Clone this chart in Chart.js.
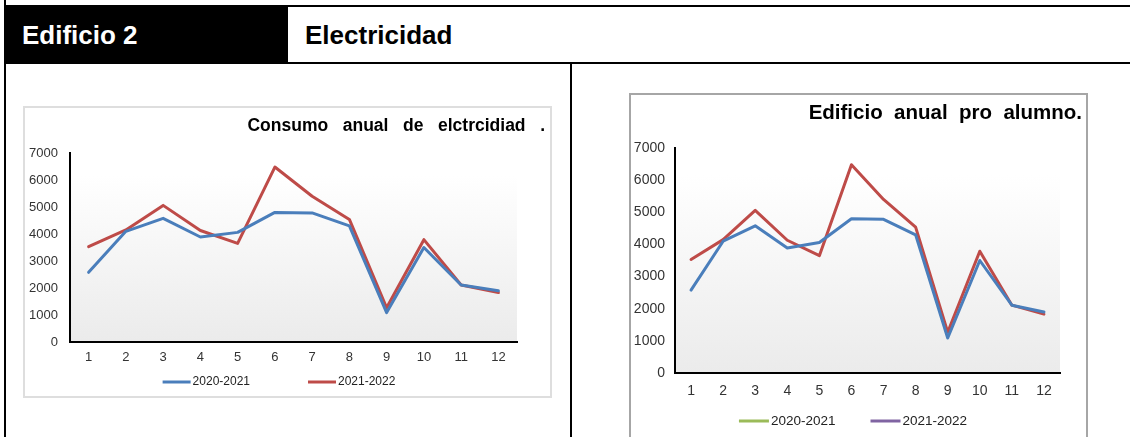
<!DOCTYPE html>
<html>
<head>
<meta charset="utf-8">
<script src="https://cdn.jsdelivr.net/npm/chart.js@4.4.1/dist/chart.umd.min.js"></script>
<style>
  body { margin: 0; width: 1130px; height: 437px; overflow: hidden; background: #fff; position: relative;
         font-family: 'Liberation Sans', Arial, sans-serif; }
  .abs { position: absolute; }
  .hd { position: absolute; font-weight: bold; font-size: 26px; line-height: 26px; }
</style>
</head>
<body>
<!-- table frame -->
<div class="abs" style="left:4px;top:0;width:2px;height:437px;background:#000"></div>
<div class="abs" style="left:4px;top:5px;width:1126px;height:2px;background:#000"></div>
<div class="abs" style="left:4px;top:5px;width:284px;height:58px;background:#000"></div>
<div class="abs" style="left:4px;top:62px;width:1126px;height:2px;background:#000"></div>
<div class="abs" style="left:570px;top:62px;width:2px;height:375px;background:#000"></div>
<div class="hd" style="left:22px;top:22px;color:#fff">Edificio 2</div>
<div class="hd" style="left:305px;top:22px;color:#000">Electricidad</div>

<!-- chart boxes -->
<div class="abs" style="left:23px;top:106px;width:529px;height:292px;border:2px solid #dedede;box-sizing:border-box"></div>
<div class="abs" style="left:629px;top:93px;width:459px;height:370px;border:2px solid #a6a6a6;box-sizing:border-box"></div>

<canvas id="c1" class="abs" style="left:25px;top:108px" width="525" height="290"></canvas>
<canvas id="c2" class="abs" style="left:631px;top:95px" width="455" height="342"></canvas>

<script>
// data
const meses = ['1', '2', '3', '4', '5', '6', '7', '8', '9', '10', '11', '12'];
const serie2021 = [2580, 4100, 4580, 3890, 4060, 4800, 4780, 4300, 1090, 3500, 2110, 1900];
const serie2122 = [3530, 4150, 5060, 4130, 3650, 6480, 5400, 4540, 1270, 3790, 2110, 1830];
const etiquetas = ['2020-2021', '2021-2022'];
const yMax = 7000;
const yStep = 1000;

const FONT = "'Liberation Sans', Arial, sans-serif";

// grey fade behind the plot
const plotFade = {
  id: 'plotFade',
  beforeDraw(chart) {
    const a = chart.chartArea, ctx = chart.ctx;
    const g = ctx.createLinearGradient(0, a.top, 0, a.bottom);
    g.addColorStop(0, '#ffffff');
    g.addColorStop(0.12, '#ffffff');
    g.addColorStop(1, '#ebebeb');
    ctx.save();
    ctx.fillStyle = g;
    ctx.fillRect(a.left, a.top, a.right - a.left, a.bottom - a.top);
    ctx.restore();
  }
};

// excel style legend: short line + text right after it
const lineLegend = {
  id: 'lineLegend',
  afterDraw(chart, args, o) {
    const ctx = chart.ctx;
    ctx.save();
    ctx.font = o.font;
    ctx.textBaseline = 'middle';
    ctx.textAlign = 'left';
    const items = chart.data.datasets.map((d, i) => ({ text: d.label, color: o.colors ? o.colors[i] : d.borderColor }));
    const widths = items.map(it => o.boxWidth + o.textGap + ctx.measureText(it.text).width);
    const total = widths.reduce((s, w) => s + w, 0) + o.gap * (items.length - 1);
    let x = o.centerX - total / 2;
    items.forEach((it, i) => {
      ctx.strokeStyle = it.color;
      ctx.lineWidth = 3;
      ctx.beginPath();
      ctx.moveTo(x, o.y);
      ctx.lineTo(x + o.boxWidth, o.y);
      ctx.stroke();
      ctx.fillStyle = '#222';
      ctx.fillText(it.text, x + o.boxWidth + o.textGap, o.y);
      x += widths[i] + o.gap;
    });
    ctx.restore();
  }
};

function makeChart(id, cfg) {
  return new Chart(document.getElementById(id), {
    type: 'line',
    data: {
      labels: meses,
      datasets: [
        { label: etiquetas[0], data: serie2021, borderColor: '#4a7ebb', backgroundColor: '#4a7ebb' },
        { label: etiquetas[1], data: serie2122, borderColor: '#be4b48', backgroundColor: '#be4b48' }
      ]
    },
    options: {
      responsive: false,
      animation: false,
      layout: { padding: { left: 0, right: cfg.padRight, top: 0, bottom: cfg.padBottom } },
      elements: {
        line: { borderWidth: 3, tension: 0, borderJoinStyle: 'round', borderCapStyle: 'round' },
        point: { radius: 0, hoverRadius: 0 }
      },
      scales: {
        x: {
          offset: true,
          grid: { display: false, drawTicks: false },
          border: { display: true, color: '#000', width: 2 },
          ticks: { color: '#333', padding: cfg.xPad, font: { family: FONT, size: cfg.tick } },
          afterFit: s => { s.height = cfg.xHeight; }
        },
        y: {
          min: 0, max: yMax,
          grid: { display: false, drawTicks: false },
          border: { display: true, color: '#000', width: 2 },
          ticks: { stepSize: yStep, color: '#333', padding: cfg.yPad, font: { family: FONT, size: cfg.tick },
                   callback: v => String(v) },
          afterFit: s => { s.width = cfg.yWidth; }
        },
        yr: {
          axis: 'y', position: 'right', display: true,
          grid: { display: false, drawTicks: false },
          border: { display: false },
          ticks: { display: false },
          afterFit: s => { s.width = cfg.rightGap; }
        }
      },
      plugins: {
        legend: { display: false },
        tooltip: { enabled: false },
        title: {
          display: true, text: cfg.title, align: 'end', color: '#000',
          font: { family: FONT, size: cfg.titleSize, weight: 'bold', lineHeight: 1.2 },
          padding: { top: cfg.titleTop, bottom: cfg.titleBottom }
        },
        lineLegend: cfg.legend
      }
    },
    plugins: [plotFade, lineLegend]
  });
}

makeChart('c1', {
  title: 'Consumo   anual   de   elctrcidiad   .',
  titleSize: 17.5, titleTop: 8, titleBottom: 16,
  padRight: 5, padBottom: 32, rightGap: 28,
  yWidth: 45, yPad: 12, xHeight: 24, xPad: 8, tick: 13,
  legend: { centerX: 254, y: 274, gap: 58, boxWidth: 28, textGap: 2, font: '12px ' + FONT }
});

makeChart('c2', {
  title: 'Edificio  anual  pro  alumno.',
  titleSize: 20.5, titleTop: 6, titleBottom: 22.4,
  padRight: 4, padBottom: 34, rightGap: 22,
  yWidth: 44, yPad: 10, xHeight: 30, xPad: 10, tick: 14,
  legend: { centerX: 222, y: 326, gap: 35, boxWidth: 30, textGap: 2, font: '13.5px ' + FONT,
            colors: ['#9bbb59', '#8064a2'] }
});
</script>
</body>
</html>
